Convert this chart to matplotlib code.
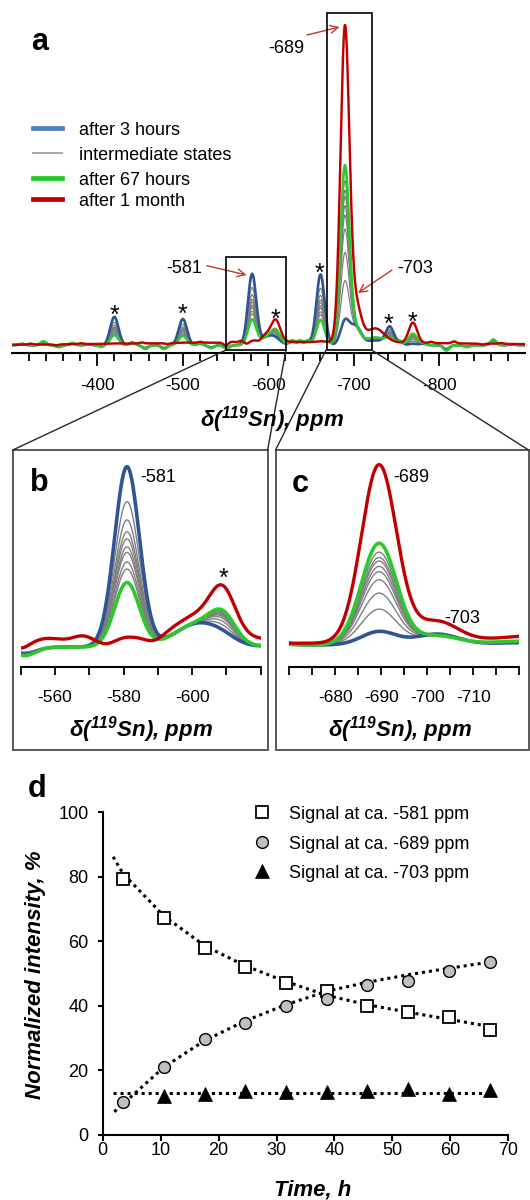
import numpy as np
import matplotlib

matplotlib.use("Agg")
import matplotlib.pyplot as plt
from matplotlib.lines import Line2D
from matplotlib.patches import Rectangle

plt.rcParams["font.family"] = ["Liberation Sans", "DejaVu Sans"]
plt.rcParams["axes.unicode_minus"] = False
plt.rcParams["mathtext.fontset"] = "custom"
plt.rcParams["mathtext.rm"] = "Liberation Sans:italic:bold"
plt.rcParams["mathtext.it"] = "Liberation Sans:italic:bold"
plt.rcParams["mathtext.bf"] = "Liberation Sans:italic:bold"

# ---- spectra (a, b, c): blue = 3 h, 8 intermediate, green = 67 h, red = 1 month
h581 = [22.7, 18.3, 16.0, 14.5, 13.6, 12.6, 11.9, 10.7, 9.8, 8.1, 0.3]
h689 = [7.5, 20.0, 29.0, 36.5, 41.0, 44.0, 47.0, 49.0, 52.0, 57.0, 100.0]
h703 = [6.0, 5.0, 5.0, 5.0, 5.0, 5.0, 5.0, 5.0, 5.0, 5.0, 12.0]
h725 = [1.5, 2.0, 2.0, 2.0, 2.0, 2.0, 2.0, 2.0, 2.0, 2.5, 4.5]
noise_scale = [1.0, 0.8, 1.2, 0.9, 1.1, 0.7, 1.3, 1.0, 0.9, 1.2, 0.0]
HUMP602 = 3.0
RED_BASE = 1.0

# spinning sidebands (starred) relative to their centre band
SSB581_PPM = [-420, -500, -661, -742]
SSB581_RATIO = [0.40, 0.37, 1.0, 0.25]
SSB689_PPM = [-609, -769]
SSB689_RATIO = [0.05, 0.065]

WIG_PPM = [-312, -337, -355, -371, -390, -405, -441, -456, -478, -520, -533, -551,
           -628, -637, -646, -754, -781, -808, -832, -863, -885]
WIG_AMP = [0.4, 1.0, -0.5, 0.6, 0.2, -0.4, 0.8, -1.0, -1.0, 0.5, -0.8, -0.9,
           1.2, 1.2, 1.2, 1.0, 0.5, -1.4, -0.5, 1.5, 0.3]
RED_WIG_PPM = [-322, -352, -381, -452, -482, -520, -550, -558, -568, -575, -589,
               -790, -817, -850, -872]
RED_WIG_AMP = [0.3, -0.3, 0.3, 0.3, -0.3, 0.3, -1.0, 0.2, 0.5, -0.6, -0.6,
               0.4, 0.6, -0.3, 0.3]

star_ppm = [-420.4, -500, -608.7, -660, -741, -769]
star_height = [11.7, 12.1, 10.5, 25.2, 8.9, 9.5]

# ---- kinetics (d)
times = [3.5, 10.6, 17.6, 24.6, 31.6, 38.7, 45.7, 52.7, 59.7, 66.8]
sig581 = [79.2, 67.1, 58.0, 52.1, 47.1, 44.7, 39.9, 38.0, 36.6, 32.5]
sig689 = [10.2, 20.9, 29.7, 34.6, 39.9, 42.1, 46.4, 47.8, 50.8, 53.5]
sig703 = [np.nan, 12.1, 12.6, 13.6, 13.1, 13.1, 13.6, 14.3, 12.6, 14.0]
trend581_t = [1.8, 3.5, 10.6, 17.6, 24.6, 31.6, 38.7, 45.7, 52.7, 59.7, 67.0]
trend581 = [86.2, 81.0, 67.8, 58.6, 52.4, 47.5, 43.2, 40.3, 38.0, 35.8, 33.5]
trend689_t = [2.0, 10.6, 17.6, 24.6, 31.6, 38.7, 45.7, 52.7, 59.7, 67.0]
trend689 = [7.1, 21.0, 29.2, 35.3, 40.3, 44.5, 47.3, 49.6, 51.6, 53.6]
trend703_t = [1.8, 67.0]
trend703 = [12.8, 12.8]

BLUE, GRAY, GREEN, RED = "#2f5597", "#7f7f7f", "#2ec82e", "#c00000"
W, H = 530, 1200
PPM = np.linspace(-300, -900, 6001)


def band(center, fwhm):
    return np.exp(-4 * np.log(2) * ((PPM - center) / fwhm) ** 2)


def spectrum(i, k=1.0):
    y = h581[i] * band(-581, 8.5 * k)
    for pos, r in zip(SSB581_PPM, SSB581_RATIO):
        y = y + h581[i] * r * band(pos, 8.5 * k)
    y = y + h689[i] * band(-689.5, 9.0 * k)
    for pos, r in zip(SSB689_PPM, SSB689_RATIO):
        y = y + h689[i] * r * band(pos, 8.5 * k)
    y = y + h703[i] * band(-702, 11 * k) + HUMP602 * band(-602, 16 * k) + h725[i] * band(-725, 24)
    if i == len(h581) - 1:
        y = y + RED_BASE * band(-640, 420)
        for pos, a in zip(RED_WIG_PPM, RED_WIG_AMP):
            y = y + a * band(pos, 6)
    else:
        for pos, a in zip(WIG_PPM, WIG_AMP):
            y = y + noise_scale[i] * a * band(pos, 8)
    return y


def px_rect(x0, y0, x1, y1):
    return [x0 / W, 1 - y1 / H, (x1 - x0) / W, (y1 - y0) / H]


def fx(x):
    return x / W


def fy(y):
    return 1 - y / H


def draw_spectra(ax, lw_main, lw_gray, k=1.0):
    curves = [spectrum(i, k) for i in range(len(h581))]
    for y in curves[1:-2]:
        ax.plot(PPM, y, color=GRAY, lw=lw_gray, zorder=2)
    ax.plot(PPM, curves[0], color=BLUE, lw=lw_main, zorder=3)
    ax.plot(PPM, curves[-2], color=GREEN, lw=lw_main, zorder=4)
    ax.plot(PPM, curves[-1], color=RED, lw=lw_main * 0.92, zorder=5)


def style_spectrum_axis(ax, xlim, ylim, ticks, labels, tick_len, pad):
    ax.set_xlim(*xlim)
    ax.set_ylim(*ylim)
    for side in ("left", "right", "top"):
        ax.spines[side].set_visible(False)
    ax.spines["bottom"].set_linewidth(1.5)
    ax.set_yticks([])
    ax.set_xticks(ticks)
    ax.set_xticklabels(labels)
    ax.tick_params(axis="x", direction="out", length=tick_len, width=1.3, pad=pad, labelsize=12.5)
    ax.patch.set_alpha(0)


fig = plt.figure(figsize=(W / 100, H / 100), dpi=100)

ax_a = fig.add_axes(px_rect(11.7, 10, 525, 352.7))
ax_b = fig.add_axes(px_rect(20.7, 455, 260.7, 666.7))
ax_c = fig.add_axes(px_rect(289.3, 455, 519.3, 666.7))
ax_d = fig.add_axes(px_rect(102.7, 812.3, 508.3, 1134.7))

# ---- panel a
draw_spectra(ax_a, 1.9, 0.9, k=1.35)
major_a = [-400, -500, -600, -700, -800]
style_spectrum_axis(ax_a, (-300, -900), (-2.4, 107.5), major_a, [str(t) for t in major_a], 9.4, 8.5)
ax_a.set_xticks([t for t in range(-320, -881, -20) if t % 100], minor=True)
ax_a.tick_params(axis="x", which="minor", direction="out", length=5.8, width=1.3)
for p, h in zip(star_ppm, star_height):
    ax_a.annotate("*", (p, h), xytext=(0, -10.5), textcoords="offset points",
                  ha="center", va="baseline", fontsize=18)
ax_a.add_patch(Rectangle((-551, -1.5), -70, 29.8, fill=False, lw=1.2, ec="black", clip_on=False, zorder=6))
ax_a.add_patch(Rectangle((-668, -1.5), -53, 108.1, fill=False, lw=1.2, ec="black", clip_on=False, zorder=6))

fig.text(fx(40), fy(50), "a", ha="center", va="baseline", fontsize=22, fontweight="bold")
legend_rows = [("after 3 hours", "#4f81bd", 3.4, 128.3), ("intermediate states", "#a6a6a6", 1.4, 153.3),
               ("after 67 hours", "#22cc22", 3.4, 178.3), ("after 1 month", RED, 3.4, 199.3)]
for label, color, lw, y in legend_rows:
    fig.add_artist(Line2D([fx(33), fx(61.7)], [fy(y), fy(y)], color=color, lw=lw))
    fig.text(fx(79.3), fy(y + 7), label, ha="left", va="baseline", fontsize=13)

arrow = dict(arrowstyle="->", color="#c0392b", lw=1.0, mutation_scale=14, shrinkA=0, shrinkB=0)
for txt, tx, ty, a0, a1 in [("-689", 286, 53.3, (307, 35), (339.5, 27)),
                            ("-581", 184, 272.7, (206.8, 265.7), (246.6, 275)),
                            ("-703", 415.5, 272.7, (392, 270), (358, 293))]:
    fig.text(fx(tx), fy(ty), txt, ha="center", va="baseline", fontsize=13)
    ax_a.annotate("", xy=(fx(a1[0]), fy(a1[1])), xytext=(fx(a0[0]), fy(a0[1])),
                  xycoords="figure fraction", textcoords="figure fraction", arrowprops=arrow)

fig.text(fx(272.3), fy(426.5), r"δ($^{119}$Sn), ppm", ha="center", va="baseline",
         fontsize=16, fontweight="bold", fontstyle="italic")

# zoom connectors and frames for b / c
for (x0, y0), (x1, y1) in [((226, 350), (12.8, 450)), ((286, 350), (267.6, 450)),
                           ((326, 350), (275.5, 450)), ((371.6, 350), (528.5, 450))]:
    fig.add_artist(Line2D([fx(x0), fx(x1)], [fy(y0), fy(y1)], color="#262626", lw=1.0))
for x0, x1 in [(12.8, 267.6), (275.5, 528.5)]:
    fig.add_artist(Rectangle((fx(x0), fy(750)), (x1 - x0) / W, 300 / H, fill=False,
                             ec="#595959", lw=1.4, transform=fig.transFigure))

# ---- panel b
draw_spectra(ax_b, 2.6, 1.0)
ticks_b = list(range(-550, -621, -10))
style_spectrum_axis(ax_b, (-550, -620), (-2.48, 24.2), ticks_b,
                    [str(t) if t in (-560, -580, -600) else "" for t in ticks_b], 6.0, 10.5)
fig.text(fx(158), fy(481.7), "-581", ha="center", va="baseline", fontsize=13)
ax_b.annotate("*", (-609, 9.6), xytext=(0, -10.5), textcoords="offset points",
              ha="center", va="baseline", fontsize=18)
fig.text(fx(39), fy(491), "b", ha="center", va="baseline", fontsize=22, fontweight="bold")
fig.text(fx(140.7), fy(736.5), r"δ($^{119}$Sn), ppm", ha="center", va="baseline",
         fontsize=16, fontweight="bold", fontstyle="italic")

# ---- panel c
draw_spectra(ax_c, 2.6, 1.0)
ticks_c = list(range(-670, -721, -5))
style_spectrum_axis(ax_c, (-670, -720), (-12.2, 106.7), ticks_c,
                    [str(t) if t in (-680, -690, -700, -710) else "" for t in ticks_c], 6.0, 10.5)
fig.text(fx(393.3), fy(481.7), "-689", ha="left", va="baseline", fontsize=13)
fig.text(fx(462), fy(623.3), "-703", ha="center", va="baseline", fontsize=13)
fig.text(fx(300.5), fy(491.5), "c", ha="center", va="baseline", fontsize=22, fontweight="bold")
fig.text(fx(400), fy(736.5), r"δ($^{119}$Sn), ppm", ha="center", va="baseline",
         fontsize=16, fontweight="bold", fontstyle="italic")

# ---- panel d
dots = (0, (1, 1.3))
ax_d.plot(trend581_t, trend581, color="black", lw=2.2, ls=dots, zorder=2)
ax_d.plot(trend689_t, trend689, color="black", lw=2.2, ls=dots, zorder=2)
ax_d.plot(trend703_t, trend703, color="black", lw=2.2, ls=dots, zorder=2)
sq = dict(marker="s", ms=8.5, mfc="white", mec="black", mew=1.3, ls="none")
ci = dict(marker="o", ms=8.5, mfc="#c0c0c0", mec="black", mew=1.0, ls="none")
tr = dict(marker="^", ms=9.5, mfc="black", mec="black", mew=0.5, ls="none")
ax_d.plot(times, sig581, zorder=3, **sq)
ax_d.plot(times, sig689, zorder=3, **ci)
ax_d.plot(times, sig703, zorder=3, **tr)
ax_d.set_xlim(0, 70)
ax_d.set_ylim(0, 100)
ax_d.set_xticks(range(0, 71, 10))
ax_d.set_yticks(range(0, 101, 20))
for side in ("right", "top"):
    ax_d.spines[side].set_visible(False)
for side in ("left", "bottom"):
    ax_d.spines[side].set_linewidth(1.5)
ax_d.tick_params(axis="x", direction="out", length=4, width=1.5, pad=1.5, labelsize=13)
ax_d.tick_params(axis="y", direction="out", length=3.3, width=1.5, pad=7, labelsize=13)
ax_d.patch.set_alpha(0)
for style, label, y in [(sq, "Signal at ca. -581 ppm", 812.3), (ci, "Signal at ca. -689 ppm", 842),
                        (tr, "Signal at ca. -703 ppm", 871)]:
    fig.add_artist(Line2D([fx(261.8)], [fy(y)], transform=fig.transFigure, **style))
    fig.text(fx(288.9), fy(y + 7), label, ha="left", va="baseline", fontsize=13)
fig.text(fx(37), fy(796.7), "d", ha="center", va="baseline", fontsize=22, fontweight="bold")
fig.text(fx(312.5), fy(1195.5), "Time, h", ha="center", va="baseline",
         fontsize=16, fontweight="bold", fontstyle="italic")
fig.text(fx(36), fy(974.5), "Normalized intensity, %", ha="center", va="center", rotation=90,
         fontsize=16, fontweight="bold", fontstyle="italic")

fig.savefig("out.png", dpi=100)
